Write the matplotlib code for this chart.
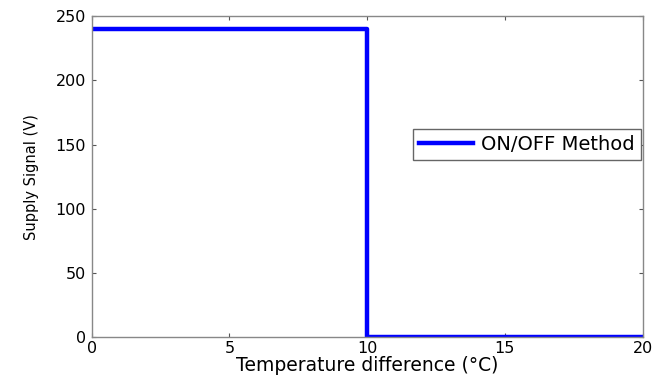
import matplotlib
matplotlib.use("Agg")
import matplotlib.pyplot as plt

# ON/OFF controller: full supply below 10 degC difference, zero above
temp_diff = [0, 10, 10, 20]
supply_v = [240, 240, 0, 0]

x_ticks = [0, 5, 10, 15, 20]
y_ticks = [0, 50, 100, 150, 200, 250]

plt.rcParams['font.family'] = ['DejaVu Sans']

fig = plt.figure(figsize=(6.7, 3.78), dpi=100)
ax = fig.add_axes([0.137, 0.108, 0.822, 0.849])

ax.plot(temp_diff, supply_v, color='#0000ff', linewidth=3.2, label='ON/OFF Method')

ax.set_xlim(0, 20)
ax.set_ylim(0, 250)
ax.set_xticks(x_ticks)
ax.set_yticks(y_ticks)
ax.tick_params(direction='in', length=3, labelsize=11.5, top=True, right=True,
               color='#555555')
ax.tick_params(axis='x', pad=3)
ax.tick_params(axis='y', pad=4)
for s in ax.spines.values():
    s.set_color('#888888')
    s.set_linewidth(1)

ax.set_xlabel('Temperature difference (\u00b0C)', fontsize=13.5, labelpad=0)
ax.set_ylabel('Supply Signal (V)', fontsize=10.5, labelpad=12)

leg = ax.legend(loc='center right', bbox_to_anchor=(1.0, 0.6), fontsize=14,
                fancybox=False, framealpha=1, edgecolor='#666666',
                handlelength=2.8, borderpad=0.3, handletextpad=0.4,
                borderaxespad=0.1)
leg.get_frame().set_linewidth(1)

fig.savefig('out.png', dpi=100)
